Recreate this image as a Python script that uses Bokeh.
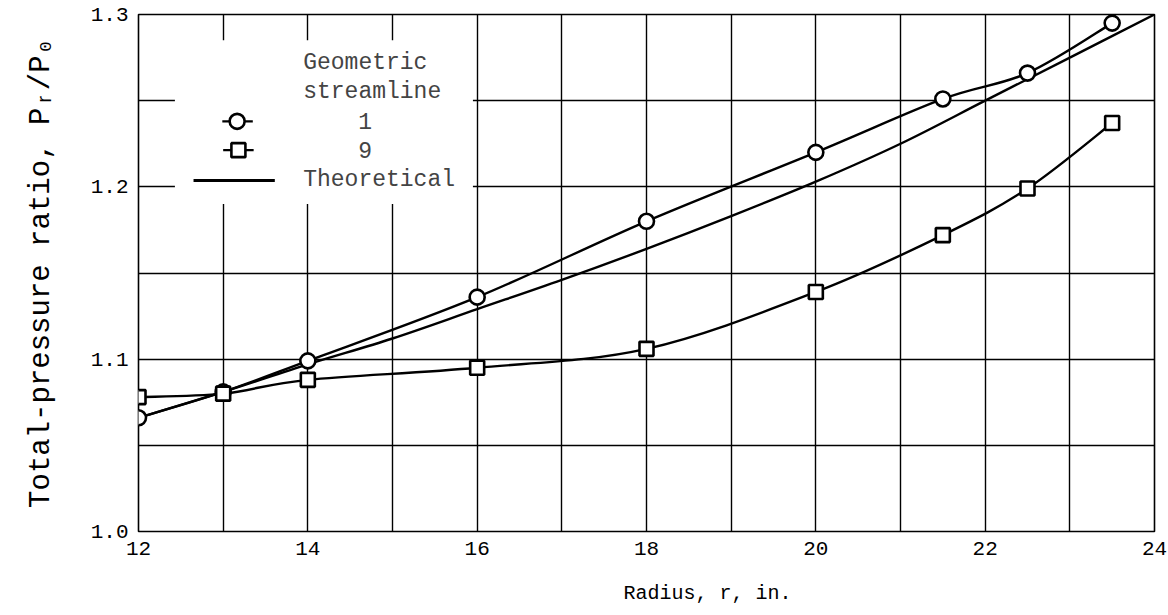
import numpy as np
from bokeh.plotting import figure
from bokeh.models import FixedTicker, Range1d, BoxAnnotation, Label, Title, CustomJSTickFormatter
from bokeh.embed import file_html
from bokeh.resources import INLINE

# ---------------- data ----------------
radius_s1 = [12, 13, 14, 16, 18, 20, 21.5, 22.5, 23.5]
ratio_s1 = [1.066, 1.081, 1.099, 1.136, 1.180, 1.220, 1.251, 1.266, 1.295]

radius_s9 = [12, 13, 14, 16, 18, 20, 21.5, 22.5, 23.5]
ratio_s9 = [1.078, 1.080, 1.088, 1.095, 1.106, 1.139, 1.172, 1.199, 1.237]

radius_theory = [12, 13, 14, 15, 16, 17, 18, 19, 20, 21, 22, 23, 24]
ratio_theory = [1.066, 1.081, 1.097, 1.112, 1.129, 1.146, 1.164, 1.183,
                1.203, 1.225, 1.250, 1.275, 1.300]

x_tick_values = [12, 14, 16, 18, 20, 22, 24]
y_tick_values = [1.0, 1.1, 1.2, 1.3]
x_grid_values = list(range(12, 25))
y_grid_values = [1.0, 1.05, 1.1, 1.15, 1.2, 1.25, 1.3]

x_title = "Radius, r, in."
y_title = "Total-pressure ratio, P\u1d63/P\u2080"
legend_title = ["Geometric", "streamline"]
legend_labels = ["1", "9", "Theoretical"]

FONT = "Liberation Mono"


def smooth(xs, ys):
    """Catmull-Rom -> cubic bezier segments through the given points."""
    P = np.column_stack([xs, ys]).astype(float)
    n = len(P)
    x0, y0, x1, y1, cx0, cy0, cx1, cy1 = ([] for _ in range(8))
    for i in range(n - 1):
        p0 = P[i - 1] if i > 0 else P[i]
        p1 = P[i]
        p2 = P[i + 1]
        p3 = P[i + 2] if i + 2 < n else P[i + 1]
        c1 = p1 + (p2 - p0) / 6.0
        c2 = p2 - (p3 - p1) / 6.0
        x0.append(p1[0]); y0.append(p1[1])
        x1.append(p2[0]); y1.append(p2[1])
        cx0.append(c1[0]); cy0.append(c1[1])
        cx1.append(c2[0]); cy1.append(c2[1])
    return dict(x0=x0, y0=y0, x1=x1, y1=y1, cx0=cx0, cy0=cy0, cx1=cx1, cy1=cy1)


p = figure(frame_width=1016, frame_height=517,
           x_range=Range1d(12, 24), y_range=Range1d(1.0, 1.3),
           output_backend="svg", toolbar_location=None,
           min_border_left=138, min_border_right=14,
           min_border_top=14, min_border_bottom=84)
p.background_fill_color = "white"
p.border_fill_color = "white"
p.outline_line_color = "black"
p.outline_line_width = 1.6

# grid
p.xgrid.ticker = FixedTicker(ticks=x_grid_values)
p.ygrid.ticker = FixedTicker(ticks=y_grid_values)
for g in (p.xgrid, p.ygrid):
    g.grid_line_color = "black"
    g.grid_line_width = 1.4
    g.grid_line_alpha = 1.0

# axes
p.xaxis.ticker = FixedTicker(ticks=x_tick_values)
p.yaxis.ticker = FixedTicker(ticks=y_tick_values)
p.yaxis.formatter = CustomJSTickFormatter(code="return tick.toFixed(1);")
for ax in (p.xaxis, p.yaxis):
    ax.axis_line_color = None
    ax.major_tick_line_color = None
    ax.minor_tick_line_color = None
    ax.major_label_text_font = FONT
    ax.major_label_text_font_size = "21px"
    ax.major_label_text_color = "black"
    ax.axis_label_text_font = FONT
    ax.axis_label_text_font_style = "normal"
    ax.axis_label_text_color = "black"
p.xaxis.major_label_standoff = 4
p.yaxis.major_label_standoff = 4
p.yaxis.axis_label = y_title
p.yaxis.axis_label_text_font_size = "29px"
p.yaxis.axis_label_standoff = 30

# x-axis title (slightly right of centre, as in the original)
p.add_layout(Title(text=x_title, align="left", offset=485, standoff=45,
                   text_font=FONT, text_font_size="20px", text_font_style="normal",
                   text_color="black"), "below")

# white area behind legend (breaks the grid)
p.add_layout(BoxAnnotation(left=12.43, right=15.95, bottom=1.19, top=1.285,
                           fill_color="white", fill_alpha=1.0,
                           line_alpha=0, level="underlay"))

# curves
LW = 2.4
for xs, ys in ((radius_theory, ratio_theory), (radius_s1, ratio_s1), (radius_s9, ratio_s9)):
    p.bezier(source=smooth(xs, ys), x0="x0", y0="y0", x1="x1", y1="y1",
             cx0="cx0", cy0="cy0", cx1="cx1", cy1="cy1", line_color="black", line_width=LW)

p.scatter(radius_s1, ratio_s1, marker="circle", size=15, fill_color="white",
          line_color="black", line_width=2.6)
p.scatter(radius_s9, ratio_s9, marker="square", size=14, fill_color="white",
          line_color="black", line_width=2.6)

# legend keys (layout positions in data space)
p.segment(x0=[12.99], y0=[1.238], x1=[13.35], y1=[1.238], line_color="black", line_width=LW)
p.scatter([13.165], [1.238], marker="circle", size=15, fill_color="white",
          line_color="black", line_width=2.6)
p.segment(x0=[13.0], y0=[1.2213], x1=[13.36], y1=[1.2213], line_color="black", line_width=LW)
p.scatter([13.18], [1.2213], marker="square", size=14, fill_color="white",
          line_color="black", line_width=2.6)
p.segment(x0=[12.65], y0=[1.2037], x1=[13.61], y1=[1.2037], line_color="black", line_width=LW + 0.6)

LEG_FS = "23px"
p.add_layout(Label(x=13.945, y=1.2716, text=legend_title[0], text_font=FONT,
                   text_font_size=LEG_FS, text_baseline="middle", text_align="left"))
p.add_layout(Label(x=13.945, y=1.2548, text=legend_title[1], text_font=FONT,
                   text_font_size=LEG_FS, text_baseline="middle", text_align="left"))
p.add_layout(Label(x=14.677, y=1.238, text=legend_labels[0], text_font=FONT,
                   text_font_size=LEG_FS, text_baseline="middle", text_align="center"))
p.add_layout(Label(x=14.677, y=1.2211, text=legend_labels[1], text_font=FONT,
                   text_font_size=LEG_FS, text_baseline="middle", text_align="center"))
p.add_layout(Label(x=13.945, y=1.2037, text=legend_labels[2], text_font=FONT,
                   text_font_size=LEG_FS, text_baseline="middle", text_align="left"))

open("out.html", "w").write(file_html(p, INLINE))
